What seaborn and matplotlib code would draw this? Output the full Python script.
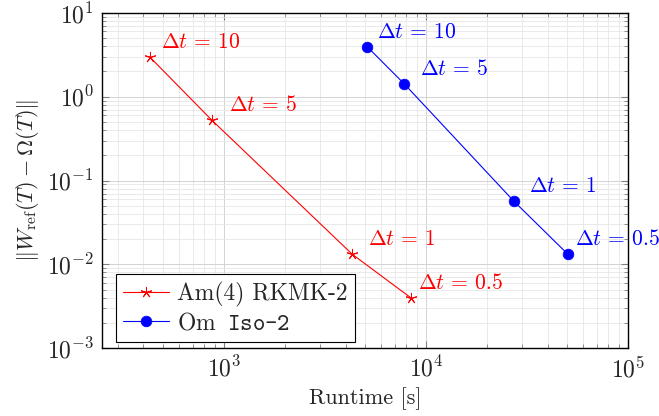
import numpy as np
import pandas as pd
import seaborn as sns
import matplotlib.pyplot as plt
from matplotlib.ticker import LogLocator, NullFormatter

# runtimes [s] and errors
dt_labels = ["10", "5", "1", "0.5"]
am_runtime = [430, 871, 4320, 8470]
am_error = [2.98, 0.527, 0.0132, 0.00395]
om_runtime = [5130, 7820, 27200, 50400]
om_error = [3.93, 1.42, 0.0569, 0.0132]

sns.set_theme(style="ticks")
plt.rcParams["font.family"] = ["cmr10"]
plt.rcParams["mathtext.fontset"] = "cm"
plt.rcParams["axes.formatter.use_mathtext"] = True
plt.rcParams["font.size"] = 17

fig = plt.figure(figsize=(6.59, 4.16), dpi=100)
ax = fig.add_axes([0.155, 0.163, 0.798, 0.806])

am = pd.DataFrame({"runtime": am_runtime, "error": am_error})
om = pd.DataFrame({"runtime": om_runtime, "error": om_error})

sns.lineplot(data=am, x="runtime", y="error", ax=ax, color="#ff0000", lw=0.8,
             marker=(5, 2, 0), markersize=8, markeredgecolor="#ff0000",
             markeredgewidth=0.7, label="Am(4) RKMK-2")
sns.lineplot(data=om, x="runtime", y="error", ax=ax, color="#0000ff", lw=0.8,
             marker="o", markersize=7.7, markeredgecolor="#0000ff",
             markeredgewidth=0.5, label=r"$\mathrm{Om}$ Iso-2")

ax.set_xscale("log")
ax.set_yscale("log")
ax.set_xlim(250, 1e5)
ax.set_ylim(1e-3, 1e1)

# labels next to each point
am_dx = [11, 17, 16, 7]
om_dx = [10, 16, 15, 7]
for x, y, t, dx in zip(am_runtime, am_error, dt_labels, am_dx):
    ax.annotate(r"$\Delta t\,=\,%s$" % t, (x, y), xytext=(dx, 9),
                textcoords="offset pixels", color="#ff0000", fontsize=15.5,
                ha="left", va="baseline")
for x, y, t, dx in zip(om_runtime, om_error, dt_labels, om_dx):
    ax.annotate(r"$\Delta t\,=\,%s$" % t, (x, y), xytext=(dx, 9),
                textcoords="offset pixels", color="#0000ff", fontsize=15.5,
                ha="left", va="baseline", clip_on=False)

ax.xaxis.set_major_locator(LogLocator(base=10, numticks=10))
ax.xaxis.set_minor_locator(LogLocator(base=10, subs=np.arange(2, 10), numticks=20))
ax.yaxis.set_major_locator(LogLocator(base=10, numticks=10))
ax.yaxis.set_minor_locator(LogLocator(base=10, subs=np.arange(2, 10), numticks=20))
ax.xaxis.set_minor_formatter(NullFormatter())
ax.yaxis.set_minor_formatter(NullFormatter())

ax.grid(which="major", color="#d3d3d3", lw=0.7)
ax.grid(which="minor", color="#e6e6e6", lw=0.6)
ax.set_axisbelow(True)
ax.tick_params(which="both", direction="in", top=True, right=True, color="#808080",
               labelsize=17)
ax.tick_params(which="major", length=5, width=0.8, pad=6)
ax.tick_params(which="minor", length=3, width=0.6)
for s in ax.spines.values():
    s.set_color("black")
    s.set_linewidth(1.0)

ax.set_xlabel("Runtime [s]", fontsize=16)
ax.set_ylabel(r"$\|W_{\mathrm{ref}}(T) - \mathit{\Omega}(T)\|$", fontsize=16)

leg = ax.legend(loc="lower left", bbox_to_anchor=(0.026, 0.018), borderaxespad=0,
                fancybox=False, framealpha=1, edgecolor="black",
                fontsize=17, handlelength=1.95, handletextpad=0.34, borderpad=0.3,
                labelspacing=0.25)
leg.get_frame().set_linewidth(0.8)
leg.get_texts()[1].set_fontfamily("cmtt10")

fig.savefig("out.png", dpi=100)
